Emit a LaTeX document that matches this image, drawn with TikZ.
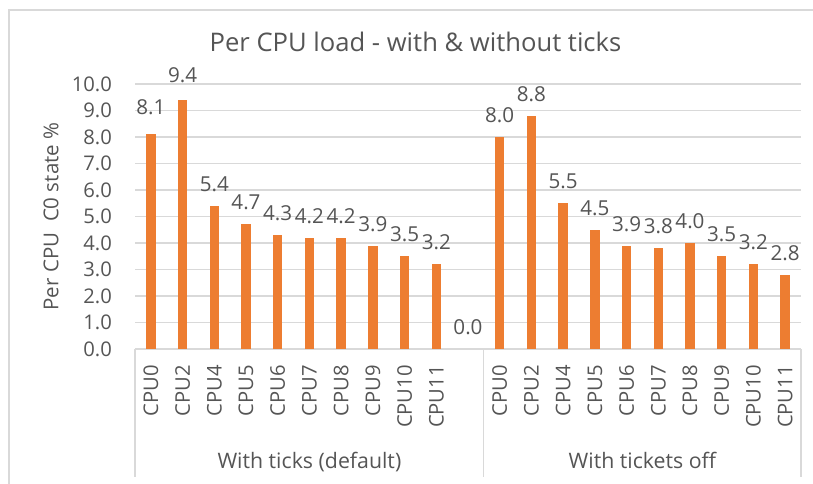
\documentclass[tikz,border=0pt]{standalone}
\usepackage{fontspec}
\setmainfont{Open Sans}
\definecolor{txtgray}{HTML}{555555}
\definecolor{gridgray}{HTML}{D9D9D9}
\definecolor{barorange}{HTML}{ED7D31}
\begin{document}
\begin{tikzpicture}[x=1pt,y=-1pt,
  gridline/.style={draw=gridgray,line width=1.1pt},
  framel/.style={draw=gridgray,line width=1.2pt},
  barfill/.style={fill=barorange},
  ticklbl/.style={text=txtgray,font=\fontsize{20.2}{24}\selectfont,inner sep=0pt,anchor=base east},
  vallbl/.style={text=txtgray,font=\fontsize{20.6}{24}\selectfont,inner sep=0pt,anchor=base},
  catlbl/.style={text=txtgray,font=\fontsize{20.2}{24}\selectfont,inner sep=0pt,rotate=90,anchor=east},
  grplbl/.style={text=txtgray,font=\fontsize{21.3}{25}\selectfont,inner sep=0pt,anchor=base},
  titlelbl/.style={text=txtgray,font=\fontsize{25.6}{30}\selectfont,inner sep=0pt,anchor=base},
  axtitle/.style={text=txtgray,font=\fontsize{20.5}{24}\selectfont,inner sep=0pt,rotate=90}]
\useasboundingbox (0,0) rectangle (813,483);
\fill[white] (0,0) rectangle (813,483);
% chart frame
\draw[framel] (9,484) -- (9,10) -- (814,10);
% gridlines
\foreach \g in {1,...,10} {
  \draw[gridline] (135,{349-26.5*\g}) -- (801,{349-26.5*\g});
}
% category axis
\draw[gridline] (135,349) -- (801,349);
\foreach \sx in {135,483.85,801} {
  \draw[gridline] (\sx,349) -- (\sx,477);
}
% y tick labels
\foreach \g in {0,...,10} {
  \node[ticklbl] (t\g) at (112,{349-26.5*\g+7}) {\g.0};
}
% group 1 bars
\foreach \v/\o [count=\i from 0] in {8.1/19.5,9.4/17.5,5.4/14.5,4.7/14.5,4.3/14.5,4.2/14.5,4.2/14.5,3.9/14.5,3.5/14.5,3.2/14.5} {
  \fill[barfill] ({135+31.714*(\i+0.5)-4.75},349) rectangle ({135+31.714*(\i+0.5)+4.75},{349-26.5*\v});
  \node[vallbl] (a\i) at ({135+31.714*(\i+0.5)},{349-26.5*\v-\o}) {\v};
}
\node[vallbl] (a10) at ({135+31.714*10.5},{349-14.5}) {0.0};
% group 2 bars
\foreach \v [count=\i from 0] in {8.0,8.8,5.5,4.5,3.9,3.8,4.0,3.5,3.2,2.8} {
  \fill[barfill] ({135+31.714*(\i+11.5)-4.75},349) rectangle ({135+31.714*(\i+11.5)+4.75},{349-26.5*\v});
  \node[vallbl] (b\i) at ({135+31.714*(\i+11.5)},{349-26.5*\v-14.5}) {\v};
}
% category labels
\foreach \c [count=\i from 0] in {CPU0,CPU2,CPU4,CPU5,CPU6,CPU7,CPU8,CPU9,CPU10,CPU11} {
  \node[catlbl] (c\i) at ({135+31.714*(\i+0.5)},365) {\c};
  \node[catlbl] (d\i) at ({135+31.714*(\i+11.5)},365) {\c};
}
% group labels
\node[grplbl] (g1) at (309.4,468) {With ticks (default)};
\node[grplbl] (g2) at (642.4,468) {With tickets off};
% title
\node[titlelbl] (title) at (415.5,51.7) {Per CPU load - with \& without ticks};
% y axis title
\node[axtitle] (yt) at (51,216.5) {Per CPU\ \ C0 state \%};
\end{tikzpicture}
\end{document}
